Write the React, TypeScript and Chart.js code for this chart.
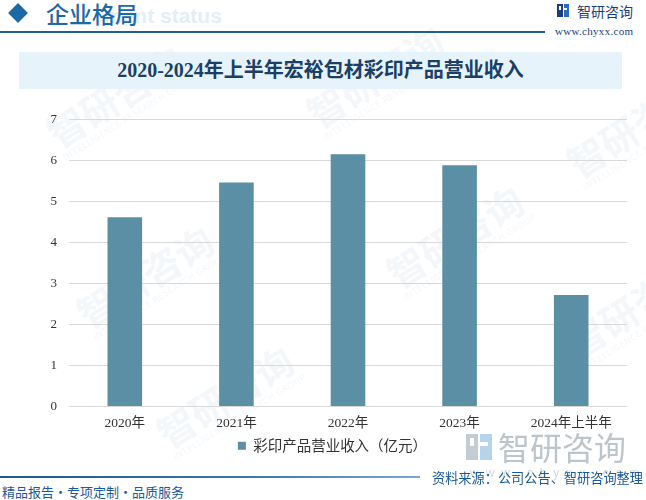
import React, { useEffect, useRef } from "react";
import { Chart, registerables } from "chart.js";

Chart.register(...registerables);

// ---- data ----
const categories = ["2020年", "2021年", "2022年", "2023年", "2024年上半年"];
const revenue = [4.62, 5.47, 6.16, 5.89, 2.72];
const seriesLabel = "彩印产品营业收入（亿元）";
const yMin = 0;
const yMax = 7;
const yStep = 1;
const chartTitle = "2020-2024年上半年宏裕包材彩印产品营业收入";
const headerText = "企业格局";
const sourceText = "资料来源：公司公告、智研咨询整理";
const footerText = "精品报告·专项定制·品质服务";

const BAR_COLOR = "#5b8fa6";
const SERIF = "'Liberation Serif', 'DejaVu Serif', 'Noto Sans CJK SC', serif";
const SANS = "'Noto Sans CJK SC', 'Noto Sans', sans-serif";

const watermarks = [
  { x: 40, y: 120, r: -32 },
  { x: 70, y: 300, r: -32 },
  { x: 300, y: 100, r: -32 },
  { x: 380, y: 260, r: -32 },
  { x: 560, y: 150, r: -32 },
  { x: 150, y: 420, r: -32 },
  { x: 560, y: 330, r: -32 },
];

export default function App() {
  const canvasRef = useRef<HTMLCanvasElement | null>(null);

  useEffect(() => {
    document.body.style.margin = "0";
    const canvas = canvasRef.current;
    if (!canvas) return;
    const chart = new Chart(canvas, {
      type: "bar",
      data: {
        labels: categories,
        datasets: [
          {
            label: seriesLabel,
            data: revenue,
            backgroundColor: BAR_COLOR,
            borderWidth: 0,
            barPercentage: 0.31,
            categoryPercentage: 1,
          },
        ],
      },
      options: {
        animation: false,
        responsive: false,
        maintainAspectRatio: false,
        devicePixelRatio: 1,
        layout: { padding: { top: 17, right: 19, left: 38, bottom: 7 } },
        plugins: {
          title: { display: false },
          tooltip: { enabled: false },
          legend: {
            display: true,
            position: "bottom",
            labels: {
              boxWidth: 8,
              boxHeight: 8,
              padding: 6,
              color: "#333333",
              font: { family: SANS, size: 14.5 },
            },
          },
        },
        scales: {
          x: {
            grid: { display: false, tickLength: 0, drawTicks: false },
            border: { display: false },
            ticks: {
              color: "#333333",
              padding: 9,
              maxRotation: 0,
              autoSkip: false,
              font: { family: SERIF, size: 13.5 },
            },
            afterFit: (scale: any) => {
              scale.height = 26;
            },
          },
          y: {
            min: yMin,
            max: yMax,
            ticks: {
              stepSize: yStep,
              color: "#333333",
              padding: 12,
              font: { family: SERIF, size: 13 },
            },
            grid: { color: "#d9d9d9", lineWidth: 1, drawTicks: false },
            border: { display: false },
            afterFit: (scale: any) => {
              scale.width = 31;
            },
          },
        },
      },
    });
    return () => chart.destroy();
  }, []);

  return (
    <div
      style={{
        position: "absolute",
        left: 0,
        top: 0,
        width: 646,
        height: 500,
        background: "#ffffff",
        overflow: "hidden",
        fontFamily: SANS,
      }}
    >
      {/* faint watermarks */}
      {watermarks.map((w, i) => (
        <div
          key={i}
          style={{
            position: "absolute",
            left: w.x,
            top: w.y,
            transform: `rotate(${w.r}deg)`,
            transformOrigin: "left top",
            color: "rgba(215,228,240,0.3)",
            fontSize: 38,
            fontWeight: 700,
            whiteSpace: "nowrap",
            lineHeight: 1,
          }}
        >
          智研咨询
          <div style={{ fontSize: 9, fontWeight: 400, letterSpacing: 0.5, marginTop: 2 }}>
            INTELLIGENCE RESEARCH GROUP
          </div>
        </div>
      ))}

      {/* header */}
      <div
        style={{
          position: "absolute",
          left: 11,
          top: 6,
          width: 14,
          height: 14,
          background: "#1b6aa5",
          transform: "rotate(45deg)",
        }}
      />
      <div
        style={{
          position: "absolute",
          left: 104,
          top: 4,
          fontSize: 21,
          fontWeight: 700,
          color: "#e4eef7",
          fontFamily: "'Liberation Sans', 'DejaVu Sans', sans-serif",
          whiteSpace: "nowrap",
          lineHeight: "24px",
        }}
      >
        ment status
      </div>
      <div
        style={{
          position: "absolute",
          left: 46,
          top: -1,
          fontSize: 23,
          fontWeight: 500,
          color: "#1b6aa5",
          whiteSpace: "nowrap",
          lineHeight: "28px",
        }}
      >
        {headerText}
      </div>
      <div
        style={{
          position: "absolute",
          left: 0,
          top: 31,
          width: 545,
          height: 2,
          background: "#1d5f98",
        }}
      />
      {/* logo top right */}
      <div style={{ position: "absolute", left: 557, top: 4, width: 12, height: 13 }}>
        <div style={{ position: "absolute", left: 0, top: 0, width: 6, height: 13, background: "#1c3f7a" }} />
        <div style={{ position: "absolute", left: 2, top: 2, width: 2, height: 4, background: "#ffffff" }} />
        <div style={{ position: "absolute", left: 7, top: 0, width: 5, height: 13, background: "#2b6cc0" }} />
        <div style={{ position: "absolute", left: 7, top: 4, width: 3, height: 2, background: "#ffffff" }} />
      </div>
      <div
        style={{
          position: "absolute",
          left: 577,
          top: 1,
          fontSize: 14,
          color: "#1c3f7a",
          whiteSpace: "nowrap",
          lineHeight: "20px",
        }}
      >
        智研咨询
      </div>
      <div
        style={{
          position: "absolute",
          left: 555,
          top: 24,
          fontSize: 11,
          color: "#1c3f7a",
          fontFamily: SERIF,
          whiteSpace: "nowrap",
          lineHeight: "14px",
          letterSpacing: 0.3,
        }}
      >
        www.chyxx.com
      </div>

      {/* title band */}
      <div
        style={{
          position: "absolute",
          left: 19,
          top: 52,
          width: 603,
          height: 37,
          background: "#e6f3fb",
        }}
      />
      <div
        style={{
          position: "absolute",
          left: 19,
          top: 52,
          width: 603,
          height: 37,
          lineHeight: "37px",
          textAlign: "center",
          fontSize: 20,
          fontWeight: 700,
          color: "#1b3f66",
          fontFamily: SERIF,
          whiteSpace: "nowrap",
        }}
      >
        {chartTitle}
      </div>

      {/* chart */}
      <canvas
        ref={canvasRef}
        width={646}
        height={370}
        style={{ position: "absolute", left: 0, top: 100, width: 646, height: 370 }}
      />

      {/* gray logo bottom right */}
      <div style={{ position: "absolute", left: 466, top: 434, width: 26, height: 26 }}>
        <div style={{ position: "absolute", left: 0, top: 0, width: 12, height: 26, background: "#c3cbd3" }} />
        <div style={{ position: "absolute", left: 4, top: 4, width: 4, height: 8, background: "#ffffff" }} />
        <div style={{ position: "absolute", left: 14, top: 0, width: 12, height: 26, background: "#b7d3ea" }} />
        <div style={{ position: "absolute", left: 14, top: 8, width: 8, height: 4, background: "#ffffff" }} />
      </div>
      <div
        style={{
          position: "absolute",
          left: 498,
          top: 426,
          fontSize: 32,
          color: "#bcc4cc",
          whiteSpace: "nowrap",
          lineHeight: "40px",
        }}
      >
        智研咨询
      </div>
      <div
        style={{
          position: "absolute",
          left: 470,
          top: 466,
          fontSize: 12,
          color: "#d3d8dd",
          whiteSpace: "nowrap",
          lineHeight: "14px",
          letterSpacing: 7,
          fontFamily: "'Liberation Sans', sans-serif",
        }}
      >
        www.chyxx.com
      </div>

      {/* footer */}
      <div
        style={{
          position: "absolute",
          left: 0,
          top: 476,
          width: 420,
          height: 2,
          background: "linear-gradient(to right, #1d5a8c, #3b78aa 60%, #7aa7cc)",
        }}
      />
      <div
        style={{
          position: "absolute",
          left: 432,
          top: 469,
          fontSize: 13.2,
          color: "#1a5a98",
          whiteSpace: "nowrap",
          lineHeight: "17px",
        }}
      >
        {sourceText}
      </div>
      <div
        style={{
          position: "absolute",
          left: 2,
          top: 483,
          fontSize: 13,
          color: "#1a5a98",
          whiteSpace: "nowrap",
          lineHeight: "17px",
        }}
      >
        {footerText}
      </div>
    </div>
  );
}
